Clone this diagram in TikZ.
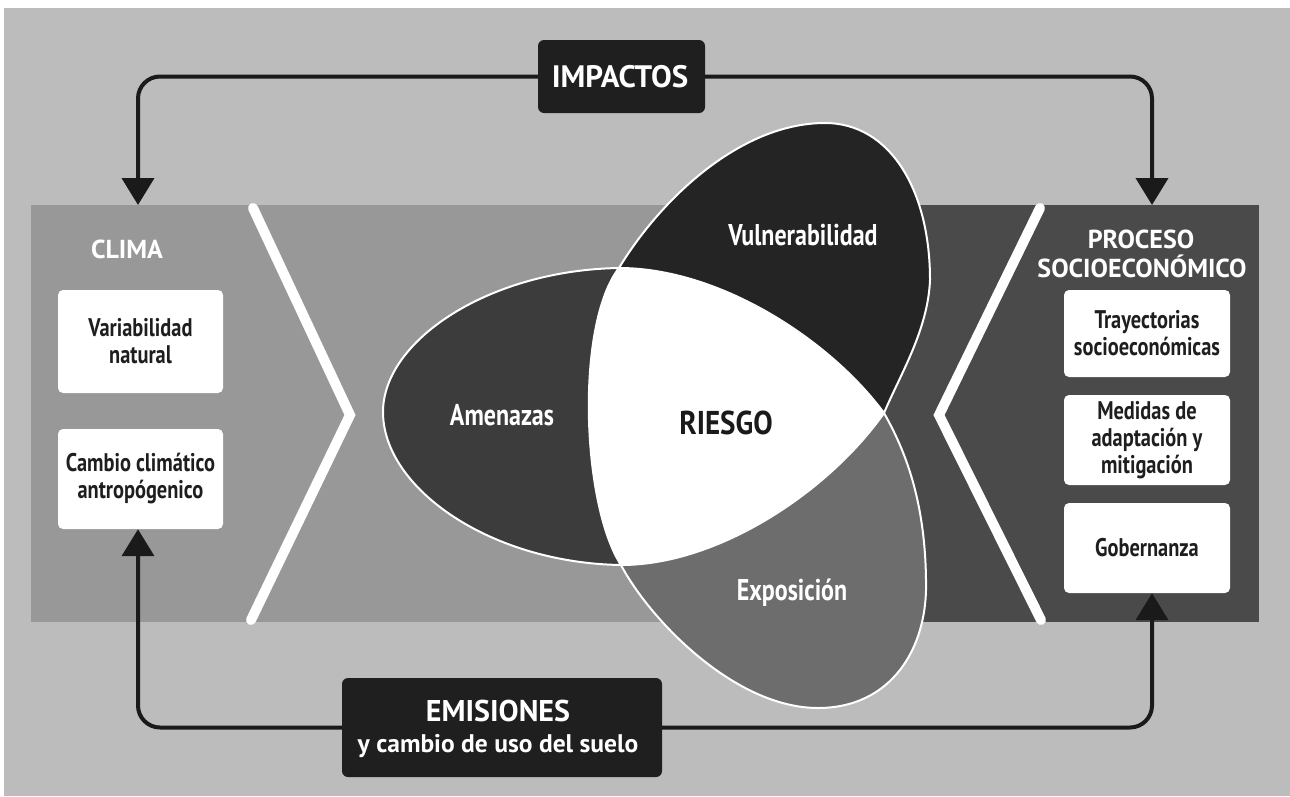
\documentclass[tikz,border=0pt]{standalone}
\usepackage{fontspec}
\setmainfont{PT Sans}
\newfontfamily\condfont[FakeStretch=0.8]{PT Sans}
\newfontfamily\riesgofont[FakeStretch=0.88]{PT Sans}
\usetikzlibrary{arrows.meta}
\definecolor{bggray}{HTML}{BCBCBC}
\definecolor{bandgray}{HTML}{989898}
\definecolor{rightgray}{HTML}{4A4A4A}
\definecolor{darkbox}{HTML}{1F1F1F}
\definecolor{linec}{HTML}{1A1A1A}
\definecolor{amen}{HTML}{3C3C3C}
\definecolor{vuln}{HTML}{242424}
\definecolor{expo}{HTML}{6D6D6D}
\definecolor{boxtext}{HTML}{1E1E1E}
\begin{document}
\begin{tikzpicture}[x=1pt,y=-1pt,
  whitebox/.style={fill=white, rounded corners=5pt, align=center, inner sep=0pt,
    text=boxtext, font=\condfont\bfseries\fontsize{25.5}{27}\selectfont},
  darklabel/.style={fill=darkbox, rounded corners=6pt, align=center, inner sep=0pt, text=white},
  conn/.style={draw=linec, line width=4pt, rounded corners=22pt,
    -{Triangle[width=32pt,length=27pt]}},
  petal/.style={draw=white, line width=2pt},
  petlabel/.style={anchor=base, text=white, font=\condfont\bfseries\fontsize{30}{32}\selectfont},
  header/.style={anchor=base, text=white, font=\bfseries\fontsize{26}{29}\selectfont},
  chev/.style={draw=white, line width=10pt, line cap=round, line join=miter}
]
\useasboundingbox (0,0) rectangle (1290,796);
\fill[white] (0,0) rectangle (1290,796);
\fill[bggray] (4,8) rectangle (1290,796);
% band
\fill[bandgray] (31,205) rectangle (1259,622);
\fill[rightgray] (880,205) rectangle (1259,622);
\draw[chev] (253,208) -- (350,415) -- (251,620);
\draw[chev] (1040,208) -- (939,415) -- (1041,620);
% petals
\coordinate (V1) at (619,268);
\coordinate (V2) at (884,413);
\coordinate (V3) at (621,565);
\filldraw[petal, fill=amen] (V1) .. controls (490,270) and (383,340) .. (383,412)
  .. controls (383,488) and (490,563) .. (V3)
  .. controls (582,505) and (575,325) .. (V1) -- cycle;
\filldraw[petal, fill=vuln] (V1) .. controls (660,200) and (740,123) .. (825,123)
  .. controls (890,123) and (930,190) .. (930,280)
  .. controls (928,330) and (900,375) .. (V2)
  .. controls (830,340) and (720,268) .. (V1) -- cycle;
\filldraw[petal, fill=expo] (V3) .. controls (650,620) and (735,708) .. (818,708)
  .. controls (890,708) and (928,650) .. (926,580)
  .. controls (925,500) and (905,450) .. (V2)
  .. controls (830,490) and (720,565) .. (V3) -- cycle;
\fill[white] (V1) .. controls (720,268) and (830,340) .. (V2)
  .. controls (830,490) and (720,565) .. (V3)
  .. controls (582,505) and (575,325) .. (V1) -- cycle;
\node[petlabel] (lamen) at (502,425) {Amenazas};
\node[petlabel] (lvuln) at (803,245) {Vulnerabilidad};
\node[petlabel] (lexpo) at (792,600) {Exposición};
\node[anchor=base, text=linec, font=\riesgofont\bfseries\fontsize{33}{35}\selectfont] (riesgo) at (726,434) {RIESGO};
% headers
\node[header] (clima) at (127,258) {CLIMA};
\node[header] (proc1) at (1141,248) {PROCESO};
\node[header] (proc2) at (1142,277) {SOCIOECONÓMICO};
% white boxes
\node[whitebox, minimum width=165pt, minimum height=103pt] (var) at (140.5,341.5) {Variabilidad\\natural};
\node[whitebox, minimum width=165pt, minimum height=100pt] (cam) at (140.5,479) {Cambio climático\\antropógenico};
\node[whitebox, minimum width=166pt, minimum height=87pt] (tra) at (1147,333.5) {Trayectorias\\socioeconómicas};
\node[whitebox, minimum width=166pt, minimum height=90pt] (med) at (1147,440) {Medidas de\\adaptación y\\mitigación};
\node[whitebox, minimum width=166pt, minimum height=90pt] (gob) at (1147,548) {Gobernanza};
% dark label boxes
\node[darklabel, minimum width=167pt, minimum height=73pt] (imp) at (621.5,76.5) {};
\node[anchor=base, text=white, font=\bfseries\fontsize{31}{33}\selectfont] (imptxt) at (620,87) {IMPACTOS};
\node[darklabel, minimum width=320pt, minimum height=99pt] (emis) at (502,727.5) {};
\node[anchor=base, text=white, font=\bfseries\fontsize{30}{32}\selectfont] (emtxt1) at (498,721) {EMISIONES};
\node[anchor=base, text=white, font=\bfseries\fontsize{25.5}{27}\selectfont] (emtxt2) at (498,752) {y cambio de uso del suelo};
% connector targets
\coordinate (climatop) at (138,205);
\coordinate (proctop) at (1152,205);
% connectors
\draw[conn] (imp.west) -| (climatop);
\draw[conn] (imp.east) -| (proctop);
\draw[conn] (emis.west) -| ([xshift=-2.5pt]cam.south);
\draw[conn] (emis.east) -| ([xshift=5pt]gob.south);
\end{tikzpicture}
\end{document}
